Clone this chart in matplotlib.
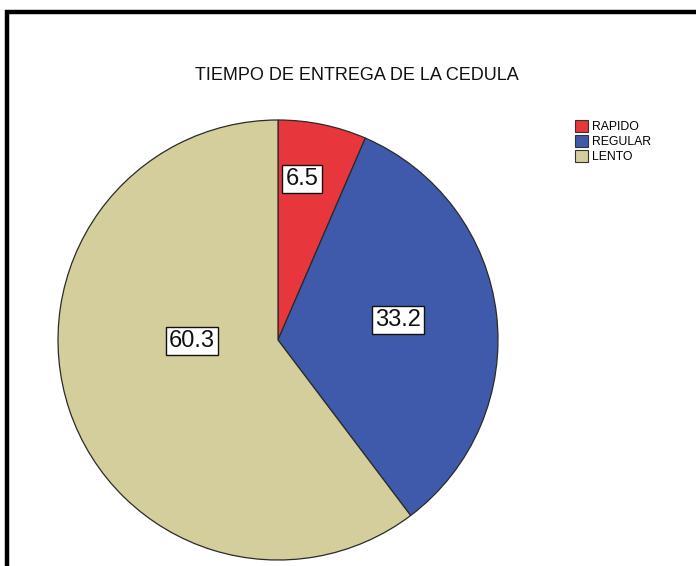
import matplotlib
matplotlib.use("Agg")
import matplotlib.pyplot as plt
from matplotlib.patches import Rectangle, Patch

# Data
categories = ["RAPIDO", "REGULAR", "LENTO"]
percentages = [6.5, 33.2, 60.3]
colors = ["#E8363D", "#3F5AAB", "#D3CE9B"]
title = "TIEMPO DE ENTREGA DE LA CEDULA"

W, H = 696, 566
plt.rcParams["font.family"] = ["Liberation Sans", "DejaVu Sans"]

fig = plt.figure(figsize=(W / 100, H / 100), dpi=100)
ax = fig.add_axes([0, 0, 1, 1])

cx, cy, r = 278, H - 340, 220
wedges, _ = ax.pie(
    percentages,
    colors=colors,
    startangle=90,
    counterclock=False,
    center=(cx, cy),
    radius=r,
    wedgeprops=dict(edgecolor="#2a2a2a", linewidth=0.9),
)

# value labels inside the slices (offsets from the pie centre, in pixels)
label_offsets = [(24, 161), (120, 20), (-86, -1)]
for val, (dx, dy) in zip(percentages, label_offsets):
    ax.text(cx + dx, cy + dy, f"{val:.1f}", ha="center", va="center",
            fontsize=17, color="#111111",
            bbox=dict(boxstyle="square,pad=0.14", facecolor="white",
                      edgecolor="#111111", linewidth=1.0))

ax.text(357, H - 76, title, ha="center", va="center", fontsize=13,
        color="#111111")

handles = [Patch(facecolor=c, edgecolor="#333333", linewidth=0.8) for c in colors]
ax.legend(handles, categories, loc="upper left",
          bbox_to_anchor=(575, H - 120), bbox_transform=ax.transData,
          frameon=False, fontsize=8.8, handlelength=1.1, handleheight=1.1,
          handletextpad=0.3, labelspacing=0.18, borderpad=0, borderaxespad=0)

# outer frame (top and left edges visible)
ax.add_patch(Rectangle((7, -20), W + 40, H - 12 + 20, fill=False,
                       edgecolor="black", linewidth=3.2, clip_on=False))

ax.set_xlim(0, W)
ax.set_ylim(0, H)
ax.set_aspect("equal")
ax.axis("off")

fig.savefig("out.png", dpi=100, facecolor="white")
